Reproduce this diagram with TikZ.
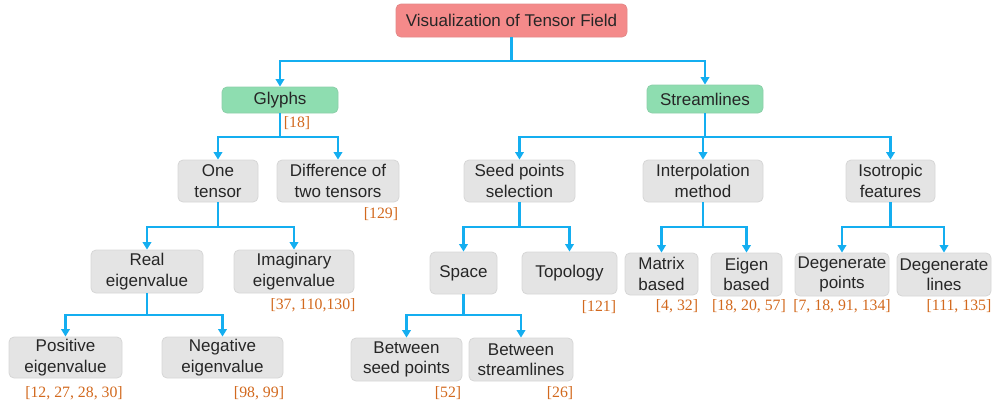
\documentclass[tikz,border=0pt]{standalone}
\usepackage{fontspec}
\setmainfont{Liberation Sans}
\newfontfamily\citefont{Liberation Serif}
\usetikzlibrary{arrows.meta}
\definecolor{rootred}{HTML}{F48A8A}
\definecolor{greenbox}{HTML}{8EDDB0}
\definecolor{graybox}{HTML}{E4E4E4}
\definecolor{grayedge}{HTML}{D6D6D6}
\definecolor{linkblue}{HTML}{14AEF0}
\definecolor{citeorange}{HTML}{D2691E}
\definecolor{boxtext}{HTML}{262626}
\begin{document}
\begin{tikzpicture}[x=1pt,y=-1pt,
  box/.style={rounded corners=5pt, draw=grayedge, line width=0.8pt, fill=graybox,
    align=center, font=\fontsize{17}{20.5}\selectfont, inner sep=0pt, text=boxtext},
  greenb/.style={box, fill=greenbox, draw=greenbox!85!gray},
  rootb/.style={box, fill=rootred, draw=rootred!85!gray},
  cite/.style={font=\citefont\fontsize{15.8}{18}\selectfont, text=citeorange, inner sep=0pt},
  link/.style={draw=linkblue, line width=2.6pt},
  arr/.style={link, -{Triangle[width=8.5pt,length=7.5pt]}}
]
\useasboundingbox (0,0) rectangle (992,405);
% nodes
\node[rootb, minimum width=231pt, minimum height=33pt] (root) at (511.5,20.5) {Visualization of Tensor Field};
\node[greenb, minimum width=116pt, minimum height=26pt] (glyphs) at (280,100) {Glyphs};
\node[greenb, minimum width=116pt, minimum height=28pt] (stream) at (705,99) {Streamlines};
\node[box, minimum width=80pt, minimum height=42pt] (one) at (218,181) {One\\tensor};
\node[box, minimum width=122pt, minimum height=42pt] (diff) at (338,181) {Difference of\\two tensors};
\node[box, minimum width=111pt, minimum height=42pt] (seed) at (519.5,181) {Seed points\\selection};
\node[box, minimum width=120pt, minimum height=42pt] (interp) at (703,181) {Interpolation\\method};
\node[box, minimum width=89pt, minimum height=42pt] (iso) at (890.5,181) {Isotropic\\features};
\node[box, minimum width=112pt, minimum height=43pt] (real) at (147,271.5) {Real\\eigenvalue};
\node[box, minimum width=120pt, minimum height=43pt] (imag) at (294,271.5) {Imaginary\\eigenvalue};
\node[box, minimum width=67pt, minimum height=42pt] (space) at (463.5,273) {Space};
\node[box, minimum width=95pt, minimum height=42pt] (topo) at (569.5,273) {Topology};
\node[box, minimum width=73pt, minimum height=42pt] (matrix) at (661.5,274) {Matrix\\based};
\node[box, minimum width=71pt, minimum height=43pt] (eigen) at (746.5,274.5) {Eigen\\based};
\node[box, minimum width=94pt, minimum height=43pt] (degp) at (842,274.5) {Degenerate\\points};
\node[box, minimum width=94pt, minimum height=43pt] (degl) at (944,274.5) {Degenerate\\lines};
\node[box, minimum width=113pt, minimum height=41pt] (pos) at (65.5,357.5) {Positive\\eigenvalue};
\node[box, minimum width=121pt, minimum height=41pt] (neg) at (222.5,357.5) {Negative\\eigenvalue};
\node[box, minimum width=111pt, minimum height=43pt] (bsp) at (406.5,359.5) {Between\\seed points};
\node[box, minimum width=104pt, minimum height=43pt] (bst) at (521,359.5) {Between\\streamlines};
% citations
\node[cite] (c18) at (297,123) {[18]};
\node[cite] (c129) at (381,214) {[129]};
\node[cite] (c37) at (313,305) {[37, 110,130]};
\node[cite] (c12) at (74,393) {[12, 27, 28, 30]};
\node[cite] (c98) at (259,393) {[98, 99]};
\node[cite] (c52) at (448,393) {[52]};
\node[cite] (c26) at (560,393) {[26]};
\node[cite] (c121) at (599,307) {[121]};
\node[cite] (c4) at (677,306) {[4, 32]};
\node[cite] (c1820) at (749,306) {[18, 20, 57]};
\node[cite] (c7) at (842,306) {[7, 18, 91, 134]};
\node[cite] (c111) at (959,306) {[111, 135]};
% bar levels
\coordinate (b0) at (0,61);
\coordinate (b1) at (0,137);
\coordinate (b2) at (0,227);
\coordinate (b3) at (0,315);
% connectors
\draw[link] (root.south) -- (root.south |- b0);
\draw[arr] (root.south |- b0) -| (glyphs.north);
\draw[arr] (root.south |- b0) -| (stream.north);
\draw[link] (glyphs.south) -- (glyphs.south |- b1);
\draw[arr] (glyphs.south |- b1) -| (one.north);
\draw[arr] (glyphs.south |- b1) -| (diff.north);
\draw[link] (stream.south) -- (stream.south |- b1);
\draw[arr] (stream.south |- b1) -| (seed.north);
\draw[arr] (stream.south |- b1) -| (interp.north);
\draw[arr] (stream.south |- b1) -| (iso.north);
\draw[link] (one.south) -- (one.south |- b2);
\draw[arr] (one.south |- b2) -| (real.north);
\draw[arr] (one.south |- b2) -| (imag.north);
\draw[link] (seed.south) -- (seed.south |- b2);
\draw[arr] (seed.south |- b2) -| (space.north);
\draw[arr] (seed.south |- b2) -| (topo.north);
\draw[link] (interp.south) -- (interp.south |- b2);
\draw[arr] (interp.south |- b2) -| (matrix.north);
\draw[arr] (interp.south |- b2) -| (eigen.north);
\draw[link] (iso.south) -- (iso.south |- b2);
\draw[arr] (iso.south |- b2) -| (degp.north);
\draw[arr] (iso.south |- b2) -| (degl.north);
\draw[link] (real.south) -- (real.south |- b3);
\draw[arr] (real.south |- b3) -| (pos.north);
\draw[arr] (real.south |- b3) -| (neg.north);
\draw[link] (space.south) -- (space.south |- b3);
\draw[arr] (space.south |- b3) -| (bsp.north);
\draw[arr] (space.south |- b3) -| (bst.north);
\end{tikzpicture}
\end{document}
